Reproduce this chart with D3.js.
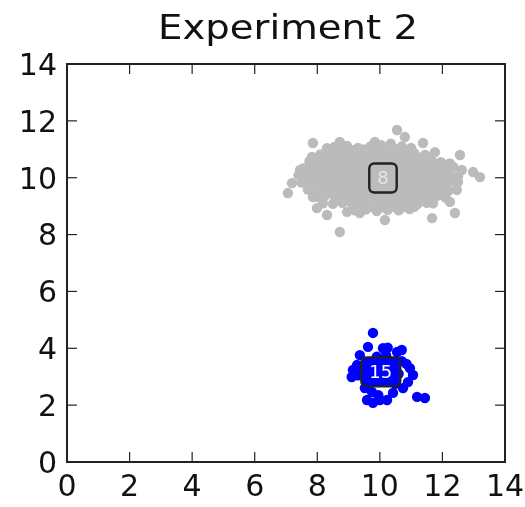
<!DOCTYPE html>
<html>
<head>
<meta charset="utf-8">
<script src="https://cdn.jsdelivr.net/npm/d3@7"></script>
<style>
  html, body { margin: 0; padding: 0; background: #fff; }
  svg { display: block; filter: blur(0.5px); }
</style>
</head>
<body>
<svg id="chart" width="525" height="507"></svg>
<script>
const title = 'Experiment 2'
const xTicks = [0, 2, 4, 6, 8, 10, 12, 14]
const yTicks = [0, 2, 4, 6, 8, 10, 12, 14]

// grey cluster
const grayPoints = [
  [8.55, 11.08], [8.95, 11.12], [9.3, 11.05], [9.7, 11.1], [10.05, 11.14], [10.35, 11.2], [10.7, 11.1], [11.0, 11.05],
  [8.1, 10.82], [8.4, 10.9], [8.7, 10.86], [9.0, 10.84], [9.3, 10.9], [9.6, 10.85], [9.9, 10.88], [10.2, 10.82], [10.5, 10.9], [10.8, 10.85], [11.1, 10.86], [11.45, 10.8],
  [7.75, 10.58], [8.05, 10.62], [8.35, 10.6], [8.65, 10.56], [8.95, 10.63], [9.25, 10.6], [9.55, 10.58], [9.85, 10.62], [10.15, 10.6], [10.45, 10.57], [10.75, 10.63], [11.05, 10.6], [11.35, 10.58], [11.65, 10.62], [11.95, 10.55],
  [7.55, 10.33], [7.85, 10.37], [8.15, 10.35], [8.45, 10.32], [8.75, 10.38], [9.05, 10.35], [9.35, 10.33], [9.65, 10.37], [9.95, 10.35], [10.25, 10.32], [10.55, 10.38], [10.85, 10.35], [11.15, 10.33], [11.45, 10.37], [11.75, 10.35], [12.05, 10.3], [12.35, 10.38],
  [7.4, 10.08], [7.7, 10.12], [8.0, 10.1], [8.3, 10.07], [8.6, 10.13], [8.9, 10.1], [9.2, 10.08], [9.5, 10.12], [9.8, 10.1], [10.1, 10.07], [10.4, 10.13], [10.7, 10.1], [11.0, 10.08], [11.3, 10.12], [11.6, 10.1], [11.9, 10.07], [12.2, 10.12], [12.5, 10.05],
  [7.5, 9.83], [7.8, 9.87], [8.1, 9.85], [8.4, 9.82], [8.7, 9.88], [9.0, 9.85], [9.3, 9.83], [9.6, 9.87], [9.9, 9.85], [10.2, 9.82], [10.5, 9.88], [10.8, 9.85], [11.1, 9.83], [11.4, 9.87], [11.7, 9.85], [12.0, 9.82], [12.3, 9.88],
  [7.7, 9.58], [8.0, 9.62], [8.3, 9.6], [8.6, 9.57], [8.9, 9.63], [9.2, 9.6], [9.5, 9.58], [9.8, 9.62], [10.1, 9.6], [10.4, 9.57], [10.7, 9.63], [11.0, 9.6], [11.3, 9.58], [11.6, 9.62], [11.9, 9.6], [12.2, 9.55],
  [7.95, 9.33], [8.25, 9.37], [8.55, 9.35], [8.85, 9.32], [9.15, 9.38], [9.45, 9.35], [9.75, 9.33], [10.05, 9.37], [10.35, 9.35], [10.65, 9.32], [10.95, 9.38], [11.25, 9.35], [11.55, 9.33], [11.85, 9.37], [12.1, 9.3],
  [8.5, 9.08], [8.8, 9.12], [9.1, 9.1], [9.4, 9.07], [9.7, 9.13], [10.0, 9.1], [10.3, 9.08], [10.6, 9.12], [10.9, 9.1], [11.2, 9.07], [11.5, 9.12],
  [9.2, 8.85], [9.55, 8.88], [9.9, 8.83], [10.25, 8.87], [10.6, 8.85], [10.95, 8.9],
  // filling between the rows
  [8.75, 10.98], [9.15, 10.97], [9.5, 10.99], [9.85, 11.0], [10.2, 10.98], [10.55, 11.0], [10.9, 10.96],
  [8.25, 10.72], [8.55, 10.74], [8.85, 10.71], [9.15, 10.73], [9.45, 10.72], [9.75, 10.74], [10.05, 10.71], [10.35, 10.73], [10.65, 10.72], [10.95, 10.74], [11.25, 10.71], [11.55, 10.7],
  [7.9, 10.47], [8.2, 10.48], [8.5, 10.46], [8.8, 10.49], [9.1, 10.47], [9.4, 10.48], [9.7, 10.46], [10.0, 10.49], [10.3, 10.47], [10.6, 10.48], [10.9, 10.46], [11.2, 10.49], [11.5, 10.47], [11.8, 10.48], [12.1, 10.45],
  [7.7, 10.22], [8.0, 10.23], [8.3, 10.21], [8.6, 10.24], [8.9, 10.22], [9.2, 10.23], [9.5, 10.21], [9.8, 10.24], [10.1, 10.22], [10.4, 10.23], [10.7, 10.21], [11.0, 10.24], [11.3, 10.22], [11.6, 10.23], [11.9, 10.21], [12.2, 10.24],
  [7.65, 9.97], [7.95, 9.98], [8.25, 9.96], [8.55, 9.99], [8.85, 9.97], [9.15, 9.98], [9.45, 9.96], [9.75, 9.99], [10.05, 9.97], [10.35, 9.98], [10.65, 9.96], [10.95, 9.99], [11.25, 9.97], [11.55, 9.98], [11.85, 9.96], [12.15, 9.99], [12.4, 9.95],
  [7.85, 9.72], [8.15, 9.73], [8.45, 9.71], [8.75, 9.74], [9.05, 9.72], [9.35, 9.73], [9.65, 9.71], [9.95, 9.74], [10.25, 9.72], [10.55, 9.73], [10.85, 9.71], [11.15, 9.74], [11.45, 9.72], [11.75, 9.73], [12.05, 9.7],
  [8.1, 9.47], [8.4, 9.48], [8.7, 9.46], [9.0, 9.49], [9.3, 9.47], [9.6, 9.48], [9.9, 9.46], [10.2, 9.49], [10.5, 9.47], [10.8, 9.48], [11.1, 9.46], [11.4, 9.49], [11.7, 9.47], [12.0, 9.45],
  [8.65, 9.22], [8.95, 9.23], [9.25, 9.21], [9.55, 9.24], [9.85, 9.22], [10.15, 9.23], [10.45, 9.21], [10.75, 9.24], [11.05, 9.22], [11.35, 9.23], [11.65, 9.2],
  [9.35, 8.97], [9.7, 8.98], [10.05, 8.96], [10.4, 8.99], [10.75, 8.97], [11.1, 8.98],
  // stragglers
  [7.86, 11.22], [8.72, 11.26], [9.84, 11.26], [10.55, 11.68], [10.8, 11.43], [11.38, 11.22], [11.76, 10.9],
  [12.56, 10.8], [12.24, 10.5], [12.62, 10.27], [12.98, 10.2], [13.2, 10.02], [12.5, 9.85], [12.46, 9.57],
  [12.24, 9.15], [12.4, 8.76], [11.67, 8.58], [11.7, 9.1], [10.16, 8.51], [8.72, 8.09], [9.36, 8.76],
  [8.95, 8.8], [8.31, 8.69], [7.99, 8.93], [8.18, 9.1], [7.86, 9.32], [7.06, 9.46], [7.19, 9.81],
  [7.45, 10.27], [7.83, 10.73], [8.31, 11.04], [9.46, 10.97]
]

// blue cluster
const bluePoints = [
  [9.78, 4.54], [9.62, 4.05], [10.1, 4.0], [10.25, 4.02], [9.36, 3.76], [9.9, 3.7], [10.2, 3.75],
  [10.55, 3.87], [10.7, 3.94], [9.14, 3.24], [9.1, 2.99], [9.27, 3.41], [9.45, 3.15], [10.96, 3.3],
  [11.06, 3.06], [10.9, 2.81], [10.74, 2.6], [11.19, 2.29], [11.44, 2.25], [9.59, 2.18], [9.78, 2.08],
  [10.0, 2.18], [10.23, 2.18], [10.42, 2.43], [9.52, 2.6], [9.75, 2.46], [9.9, 3.2], [10.1, 3.0],
  [10.4, 3.3], [9.7, 2.9], [10.6, 3.1], [10.5, 2.75], [9.55, 3.5], [10.7, 3.55], [9.95, 2.35],
  [10.85, 3.45], [9.3, 3.05]
]

const clusterLabels = ['8', '15']
const labelX = [10.1, 10.03]
const labelY = [9.99, 3.17]
const labelFill = ['#bbbbbb', '#0000ff']
const labelText = ['#e6e6e6', '#ffffff']

const svg = d3.select('#chart')
const font = 'DejaVu Sans, sans-serif'
const margin = { left: 67, right: 505, top: 64, bottom: 462 }

const x = d3.scaleLinear().domain([0, 14]).range([margin.left, margin.right])
const y = d3.scaleLinear().domain([0, 14]).range([margin.bottom, margin.top])

svg.append('text')
  .attr('x', 158)
  .attr('y', 39)
  .attr('font-family', font)
  .attr('font-size', 33)
  .attr('textLength', 260)
  .attr('lengthAdjust', 'spacingAndGlyphs')
  .attr('fill', '#111')
  .text(title)

// points
svg.append('g').selectAll('circle').data(grayPoints).join('circle')
  .attr('cx', d => x(d[0]))
  .attr('cy', d => y(d[1]))
  .attr('r', 5.2)
  .attr('fill', '#bbbbbb')

svg.append('g').selectAll('circle').data(bluePoints).join('circle')
  .attr('cx', d => x(d[0]))
  .attr('cy', d => y(d[1]))
  .attr('r', 5.2)
  .attr('fill', '#0000ff')

// boxed labels
clusterLabels.forEach((lab, i) => {
  const g = svg.append('g').attr('transform', `translate(${x(labelX[i])},${y(labelY[i])})`)
  const rect = g.append('rect')
  const t = g.append('text')
    .attr('text-anchor', 'middle')
    .attr('dy', '0.36em')
    .attr('font-family', font)
    .attr('font-size', 18)
    .attr('fill', labelText[i])
    .text(lab)
  const bb = t.node().getBBox()
  const w = bb.width + 16, h = 29
  rect.attr('x', -w / 2).attr('y', -h / 2)
    .attr('width', w).attr('height', h)
    .attr('rx', 5)
    .attr('fill', labelFill[i])
    .attr('stroke', '#222')
    .attr('stroke-width', 2.4)
})

// axes, ticks inward on all four sides
const tickLen = 10
const ax = svg.append('g').attr('stroke', '#222').attr('stroke-width', 1.2)
xTicks.forEach(v => {
  ax.append('line').attr('x1', x(v)).attr('x2', x(v)).attr('y1', margin.bottom).attr('y2', margin.bottom - tickLen)
  ax.append('line').attr('x1', x(v)).attr('x2', x(v)).attr('y1', margin.top).attr('y2', margin.top + tickLen)
})
yTicks.forEach(v => {
  ax.append('line').attr('x1', margin.left).attr('x2', margin.left + tickLen).attr('y1', y(v)).attr('y2', y(v))
  ax.append('line').attr('x1', margin.right).attr('x2', margin.right - tickLen).attr('y1', y(v)).attr('y2', y(v))
})

svg.append('rect')
  .attr('x', margin.left).attr('y', margin.top)
  .attr('width', margin.right - margin.left).attr('height', margin.bottom - margin.top)
  .attr('fill', 'none')
  .attr('stroke', '#222')
  .attr('stroke-width', 2)

svg.append('g').selectAll('text').data(xTicks).join('text')
  .attr('x', d => x(d))
  .attr('y', 496)
  .attr('text-anchor', 'middle')
  .attr('font-family', font)
  .attr('font-size', 30)
  .attr('fill', '#111')
  .text(d => d)

svg.append('g').selectAll('text').data(yTicks).join('text')
  .attr('x', 57)
  .attr('y', d => y(d))
  .attr('dy', '0.36em')
  .attr('text-anchor', 'end')
  .attr('font-family', font)
  .attr('font-size', 30)
  .attr('fill', '#111')
  .text(d => d)
</script>
</body>
</html>
